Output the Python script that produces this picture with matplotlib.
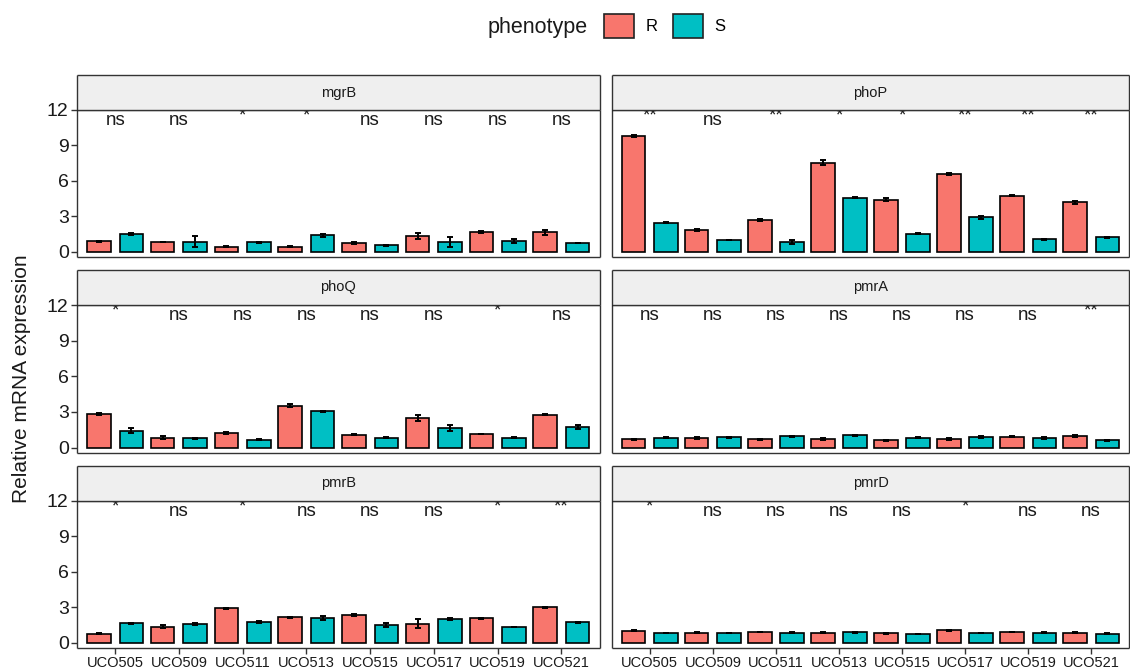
import numpy as np
import matplotlib
matplotlib.use('Agg')
import matplotlib.pyplot as plt
from matplotlib.patches import Patch

plt.rcParams['font.family'] = ['Liberation Sans', 'DejaVu Sans']

strains = ['UCO505', 'UCO509', 'UCO511', 'UCO513',
           'UCO515', 'UCO517', 'UCO519', 'UCO521']
genes = ['mgrB', 'phoP', 'phoQ', 'pmrA', 'pmrB', 'pmrD']

# mean relative expression (R / S phenotype) per strain
mgrB_R = [0.90, 0.82, 0.42, 0.40, 0.73, 1.33, 1.67, 1.64]
mgrB_S = [1.53, 0.85, 0.79, 1.38, 0.54, 0.82, 0.90, 0.73]
phoP_R = [9.80, 1.84, 2.71, 7.54, 4.41, 6.58, 4.75, 4.18]
phoP_S = [2.46, 0.99, 0.82, 4.55, 1.53, 2.91, 1.07, 1.21]
phoQ_R = [2.81, 0.84, 1.21, 3.51, 1.10, 2.50, 1.15, 2.78]
phoQ_S = [1.43, 0.79, 0.65, 3.06, 0.84, 1.66, 0.84, 1.74]
pmrA_R = [0.70, 0.81, 0.70, 0.73, 0.62, 0.76, 0.90, 0.98]
pmrA_S = [0.84, 0.87, 0.96, 1.04, 0.84, 0.90, 0.81, 0.62]
pmrB_R = [0.76, 1.33, 2.91, 2.15, 2.34, 1.61, 2.06, 2.99]
pmrB_S = [1.64, 1.58, 1.72, 2.09, 1.47, 2.03, 1.33, 1.72]
pmrD_R = [1.02, 0.85, 0.90, 0.82, 0.79, 1.05, 0.90, 0.85]
pmrD_S = [0.82, 0.82, 0.82, 0.88, 0.73, 0.82, 0.82, 0.76]

# standard errors
mgrB_Re = [0.04, 0.04, 0.03, 0.04, 0.05, 0.25, 0.08, 0.20]
mgrB_Se = [0.08, 0.45, 0.03, 0.12, 0.03, 0.40, 0.15, 0.03]
phoP_Re = [0.05, 0.06, 0.08, 0.20, 0.10, 0.10, 0.04, 0.10]
phoP_Se = [0.04, 0.04, 0.20, 0.04, 0.03, 0.10, 0.04, 0.05]
phoQ_Re = [0.10, 0.15, 0.10, 0.12, 0.03, 0.22, 0.03, 0.04]
phoQ_Se = [0.20, 0.04, 0.04, 0.04, 0.04, 0.22, 0.04, 0.15]
pmrA_Re = [0.04, 0.06, 0.04, 0.05, 0.04, 0.08, 0.04, 0.05]
pmrA_Se = [0.05, 0.04, 0.05, 0.06, 0.04, 0.06, 0.06, 0.04]
pmrB_Re = [0.03, 0.12, 0.04, 0.04, 0.10, 0.40, 0.06, 0.03]
pmrB_Se = [0.03, 0.08, 0.08, 0.14, 0.18, 0.08, 0.03, 0.04]
pmrD_Re = [0.04, 0.04, 0.03, 0.04, 0.04, 0.04, 0.04, 0.04]
pmrD_Se = [0.03, 0.03, 0.04, 0.03, 0.04, 0.03, 0.04, 0.03]

# significance labels (R vs S)
mgrB_sig = ['ns', 'ns', '*', '*', 'ns', 'ns', 'ns', 'ns']
phoP_sig = ['**', 'ns', '**', '*', '*', '**', '**', '**']
phoQ_sig = ['*', 'ns', 'ns', 'ns', 'ns', 'ns', '*', 'ns']
pmrA_sig = ['ns', 'ns', 'ns', 'ns', 'ns', 'ns', 'ns', '**']
pmrB_sig = ['*', 'ns', '*', 'ns', 'ns', 'ns', '*', '**']
pmrD_sig = ['*', 'ns', 'ns', 'ns', 'ns', '*', 'ns', 'ns']

data = {
    'mgrB': (mgrB_R, mgrB_S, mgrB_Re, mgrB_Se, mgrB_sig),
    'phoP': (phoP_R, phoP_S, phoP_Re, phoP_Se, phoP_sig),
    'phoQ': (phoQ_R, phoQ_S, phoQ_Re, phoQ_Se, phoQ_sig),
    'pmrA': (pmrA_R, pmrA_S, pmrA_Re, pmrA_Se, pmrA_sig),
    'pmrB': (pmrB_R, pmrB_S, pmrB_Re, pmrB_Se, pmrB_sig),
    'pmrD': (pmrD_R, pmrD_S, pmrD_Re, pmrD_Se, pmrD_sig),
}

colR = '#F8766D'
colS = '#00BFC4'
edge = '#333333'

W, H = 1130, 671
fig = plt.figure(figsize=(W / 100, H / 100), dpi=100)


def box(x0, y0, x1, y1):
    return [x0 / W, 1 - y1 / H, (x1 - x0) / W, (y1 - y0) / H]


cols = [(77, 599.5), (612, 1129)]
rows = [(110, 257), (305, 453), (500.5, 648)]
strip_h = 35

x = np.arange(1, 9)
for i, g in enumerate(genes):
    r, c = divmod(i, 2)
    x0, x1 = cols[c]
    y0, y1 = rows[r]
    ax = fig.add_axes(box(x0, y0, x1, y1))
    R, S, Re, Se, sig = data[g]
    ax.bar(x - 0.255, R, width=0.37, color=colR, edgecolor='black', linewidth=1.2, zorder=2)
    ax.bar(x + 0.255, S, width=0.37, color=colS, edgecolor='black', linewidth=1.2, zorder=2)
    ax.errorbar(x - 0.255, R, yerr=Re, fmt='none', ecolor='black',
                elinewidth=1.4, capsize=2.5, capthick=1.4, zorder=3)
    ax.errorbar(x + 0.255, S, yerr=Se, fmt='none', ecolor='black',
                elinewidth=1.4, capsize=2.5, capthick=1.4, zorder=3)
    for xi, s in zip(x, sig):
        # stars sit higher and get cut by the strip, like the original
        yy = 10.73 if s == 'ns' else 11.1
        ax.text(xi, yy, s, ha='center', va='baseline', fontsize=13.5,
                color='#1A1A1A', clip_on=True)
    ax.set_xlim(0.4, 8.6)
    ax.set_ylim(-0.45, 12)
    for sp in ax.spines.values():
        sp.set_color(edge)
        sp.set_linewidth(1.0)
        sp.set_capstyle('butt')
    ax.spines['top'].set_color('black')
    ax.spines['top'].set_linewidth(1.6)
    ax.set_yticks([0, 3, 6, 9, 12])
    ax.set_xticks(x)
    ax.tick_params(axis='both', length=4, width=1, color=edge)
    if c == 0:
        ax.tick_params(axis='y', labelsize=14, labelcolor='#1A1A1A', pad=2)
    else:
        ax.tick_params(axis='y', left=False, labelleft=False)
    if r == 2:
        ax.set_xticklabels(strains)
        ax.tick_params(axis='x', labelsize=10.5, labelcolor='#1A1A1A', pad=2)
    else:
        ax.tick_params(axis='x', bottom=False, labelbottom=False)

    st = fig.add_axes(box(x0, y0 - strip_h, x1, y0))
    st.set_facecolor('#EFEFEF')
    st.set_xticks([])
    st.set_yticks([])
    for sp in st.spines.values():
        sp.set_color(edge)
        sp.set_linewidth(1.0)
        sp.set_capstyle('butt')
    st.text(0.5, 0.5, g, ha='center', va='center', fontsize=10.5,
            color='#1A1A1A', transform=st.transAxes)

fig.text(22 / W, 1 - 379 / H, 'Relative mRNA expression', rotation=90,
         ha='center', va='center', fontsize=15, color='#1A1A1A')

fig.text(538 / W, 1 - 27 / H, 'phenotype', ha='center', va='center',
         fontsize=15.5, color='#1A1A1A')
handles = [Patch(facecolor=colR, edgecolor='#222222', linewidth=1.2, label='R'),
           Patch(facecolor=colS, edgecolor='#222222', linewidth=1.2, label='S')]
fig.legend(handles=handles, loc='center left', bbox_to_anchor=(604 / W, 1 - 26 / H),
           ncol=2, frameon=False, fontsize=12, handlelength=1.8, handleheight=1.8,
           handletextpad=0.7, columnspacing=0.9, borderaxespad=0, borderpad=0)

fig.savefig('out.png', dpi=100)
